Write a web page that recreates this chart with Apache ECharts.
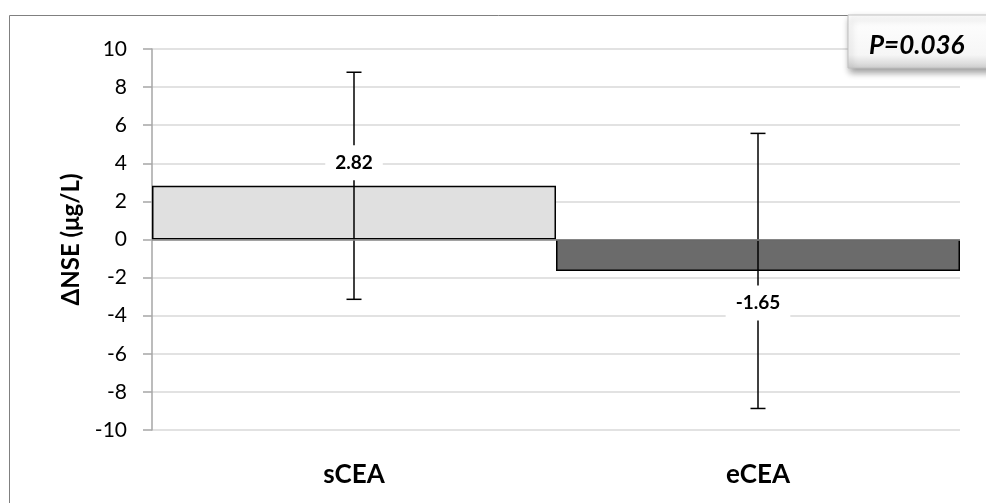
<!DOCTYPE html>
<html>
<head>
<meta charset="utf-8">
<script src="https://cdn.jsdelivr.net/npm/echarts@6/dist/echarts.min.js"></script>
<style>html,body{margin:0;padding:0;background:#fff;}#c{width:986px;height:503px;}</style>
</head>
<body>
<div id="c"></div>
<script>
var categories = ['sCEA', 'eCEA'];
var means = [2.82, -1.65];
var errLow = [-3.14, -8.87];
var errHigh = [8.78, 5.57];
var barColors = ['#e0e0e0', '#6b6b6b'];
var yTicks = {min: -10, max: 10, interval: 2};
var pText = 'P=0.036';
var yTitle = 'ΔNSE (μg/L)';

var FONT = 'Lato';
var chart = echarts.init(document.getElementById('c'));

var barData = means.map(function (v, i) {
  return {value: v, itemStyle: {color: barColors[i]}};
});
var errData = categories.map(function (c, i) { return [i, errLow[i], errHigh[i], means[i]]; });

chart.setOption({
  animation: false,
  textStyle: {fontFamily: FONT},
  grid: {left: 152, right: 26, top: 49, bottom: 73},
  graphic: [
    {type: 'rect', z: -10, shape: {x: 9.5, y: 15.5, width: 1000, height: 600},
     style: {fill: 'none', stroke: '#808080', lineWidth: 1}},
    {type: 'rect', z: 100, shape: {x: 848, y: 15, width: 160, height: 53},
     style: {
       fill: new echarts.graphic.LinearGradient(0, 0, 0, 1, [
         {offset: 0, color: '#ffffff'}, {offset: 0.75, color: '#f6f6f6'}, {offset: 1, color: '#cfcfcf'}]),
       stroke: '#c0c0c0', lineWidth: 1,
       shadowBlur: 7, shadowColor: 'rgba(0,0,0,0.4)', shadowOffsetX: 2, shadowOffsetY: 4}},
    {type: 'text', z: 101, x: 869, y: 46,
     style: {text: pText, font: 'italic bold 26px Lato', fill: '#000', verticalAlign: 'middle'}}
  ],
  xAxis: {
    type: 'category', data: categories,
    axisLine: {show: false, onZero: false},
    axisTick: {show: false},
    axisLabel: {margin: 32, fontSize: 26, fontWeight: 'bold', color: '#000', fontFamily: FONT},
    splitLine: {show: false}
  },
  yAxis: {
    type: 'value', min: yTicks.min, max: yTicks.max, interval: yTicks.interval,
    name: yTitle, nameLocation: 'middle', nameGap: 69, nameRotate: 90,
    nameTextStyle: {fontSize: 24, fontWeight: 'bold', color: '#000', fontFamily: FONT},
    axisLine: {show: true, lineStyle: {color: '#a6a6a6', width: 1.5}},
    axisTick: {show: true, length: 9, lineStyle: {color: '#a6a6a6', width: 1.5}},
    axisLabel: {fontSize: 21, color: '#000', margin: 25, fontFamily: FONT},
    splitLine: {lineStyle: {color: '#d9d9d9', width: 1.5}}
  },
  series: [
    {
      type: 'bar', data: barData, barWidth: '100%', barCategoryGap: '0%',
      itemStyle: {borderColor: '#000', borderWidth: 1.5},
      markLine: {
        silent: true, symbol: 'none', label: {show: false},
        lineStyle: {color: '#8c8c8c', width: 1.5, type: 'solid'},
        data: [{yAxis: 0}]
      },
      z: 2
    },
    {
      type: 'custom', data: errData, z: 3,
      renderItem: function (params, api) {
        var x = api.value(0);
        var lo = api.coord([x, api.value(1)]);
        var hi = api.coord([x, api.value(2)]);
        var m = api.value(3);
        var mc = api.coord([x, m]);
        var cw = 7.5;
        var st = {stroke: '#000', lineWidth: 1.5};
        return {type: 'group', children: [
          {type: 'line', shape: {x1: hi[0], y1: hi[1], x2: lo[0], y2: lo[1]}, style: st},
          {type: 'line', shape: {x1: hi[0] - cw, y1: hi[1], x2: hi[0] + cw, y2: hi[1]}, style: st},
          {type: 'line', shape: {x1: lo[0] - cw, y1: lo[1], x2: lo[0] + cw, y2: lo[1]}, style: st},
          {type: 'text', z2: 10, x: mc[0], y: mc[1] + (m >= 0 ? -23 : 32),
           style: {text: m.toFixed(2), font: 'bold 19px Lato', fill: '#000',
                   align: 'center', verticalAlign: 'middle',
                   backgroundColor: '#fff', padding: [8, 10]}}
        ]};
      }
    }
  ]
});
</script>
</body>
</html>
